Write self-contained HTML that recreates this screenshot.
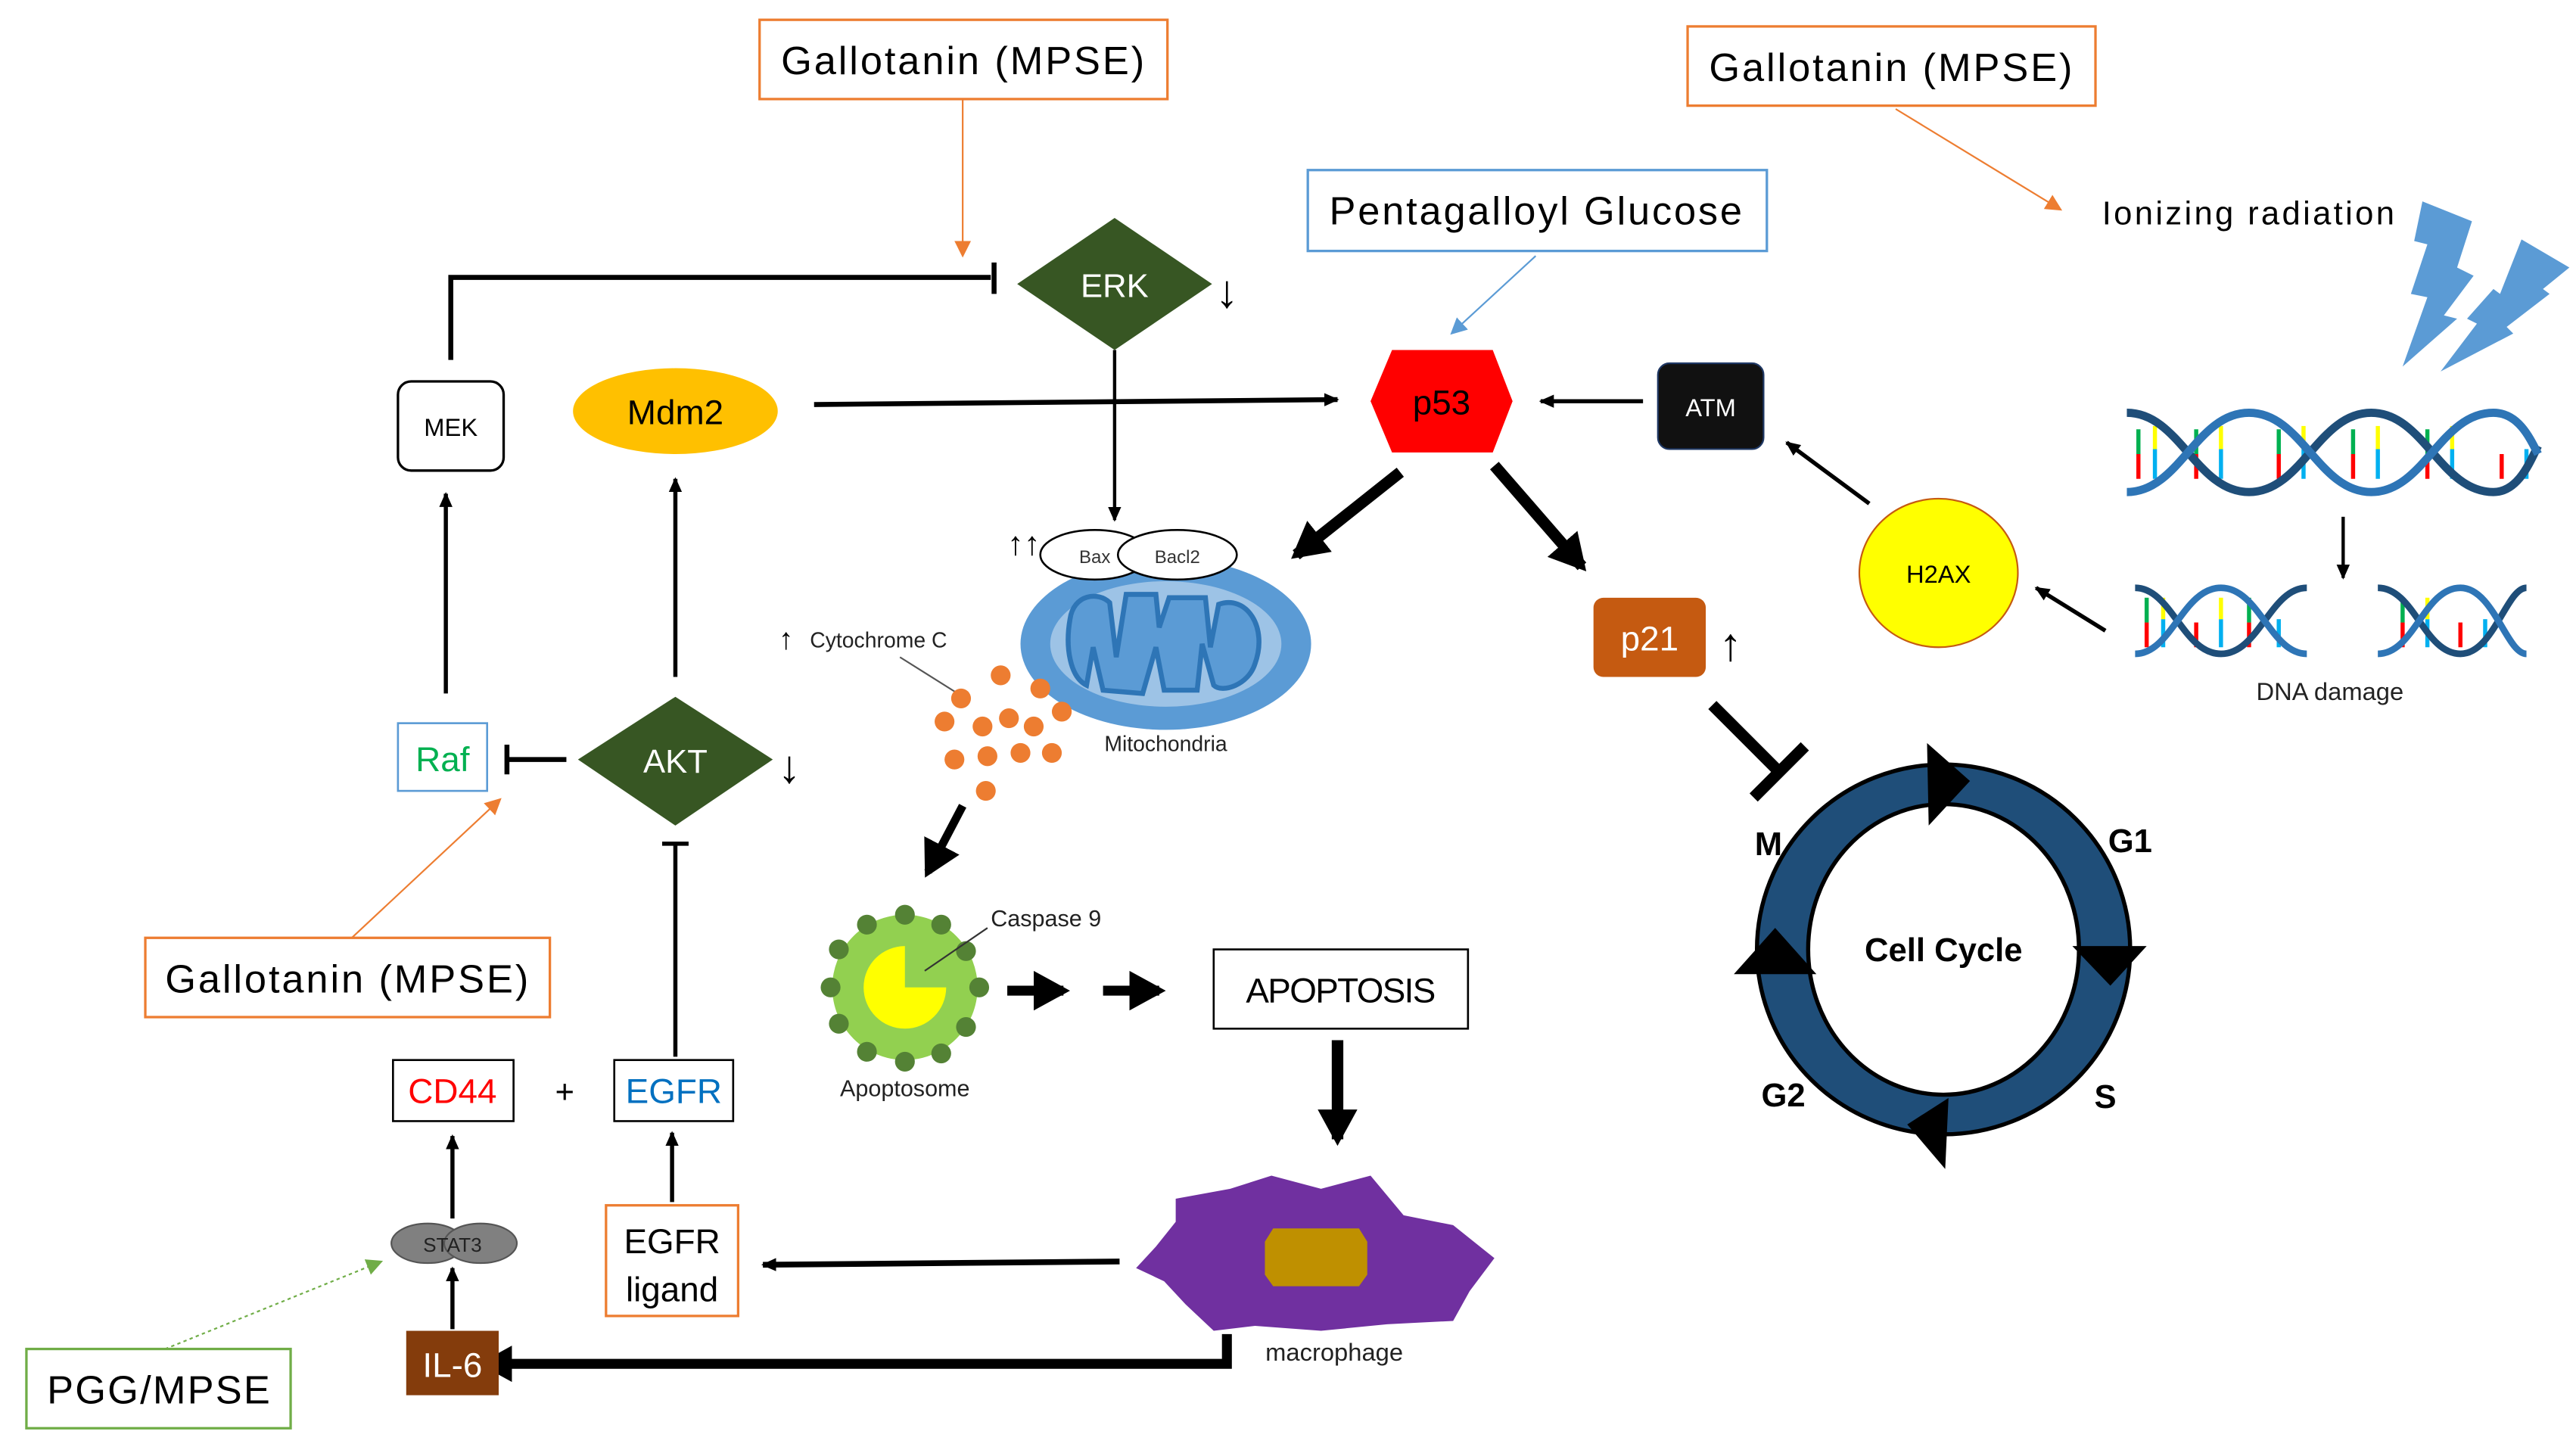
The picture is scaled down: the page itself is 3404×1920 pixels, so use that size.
<!DOCTYPE html>
<html><head><meta charset="utf-8"><style>
html,body{margin:0;padding:0;background:#fff;}
svg{display:block;}
text{font-family:"Liberation Sans",sans-serif;}
</style></head><body>
<svg width="3404" height="1920" viewBox="0 0 1560 880" preserveAspectRatio="none" xmlns="http://www.w3.org/2000/svg">
<defs>
<marker id="a" markerWidth="10" markerHeight="10" refX="8" refY="5" orient="auto" markerUnits="userSpaceOnUse"><path d="M0,1 L9,5 L0,9 Z" fill="#000"/></marker>
<marker id="ao" markerWidth="12" markerHeight="12" refX="9" refY="6" orient="auto" markerUnits="userSpaceOnUse"><path d="M0,1 L10,6 L0,11 Z" fill="#ed7d31"/></marker>
<marker id="ab" markerWidth="12" markerHeight="12" refX="9" refY="6" orient="auto" markerUnits="userSpaceOnUse"><path d="M0,1 L10,6 L0,11 Z" fill="#5b9bd5"/></marker>
<marker id="ag" markerWidth="12" markerHeight="12" refX="9" refY="6" orient="auto" markerUnits="userSpaceOnUse"><path d="M0,1 L10,6 L0,11 Z" fill="#70ad47"/></marker>
<marker id="A" markerWidth="30" markerHeight="30" refX="18" refY="12" orient="auto" markerUnits="userSpaceOnUse"><path d="M0,0 L22,12 L0,24 Z" fill="#000"/></marker>
</defs>

<!-- top boxes -->
<rect x="460" y="12" width="247" height="48" fill="#fff" stroke="#ed7d31" stroke-width="1.5"/>
<text x="583" y="45" font-size="24" text-anchor="middle" textLength="220">Gallotanin (MPSE)</text>
<rect x="1022" y="16" width="247" height="48" fill="#fff" stroke="#ed7d31" stroke-width="1.5"/>
<text x="1145" y="49" font-size="24" text-anchor="middle" textLength="220">Gallotanin (MPSE)</text>
<rect x="792" y="103" width="278" height="49" fill="#fff" stroke="#5b9bd5" stroke-width="1.5"/>
<text x="930" y="136" font-size="24" text-anchor="middle" textLength="250">Pentagalloyl Glucose</text>
<line x1="583" y1="60" x2="583" y2="155" stroke="#ed7d31" stroke-width="1" marker-end="url(#ao)"/>
<line x1="930" y1="155" x2="879" y2="202" stroke="#5b9bd5" stroke-width="1" marker-end="url(#ab)"/>
<line x1="1148" y1="66" x2="1248" y2="127" stroke="#ed7d31" stroke-width="1" marker-end="url(#ao)"/>
<text x="1273" y="136" font-size="20" textLength="177">Ionizing radiation</text>
<!-- lightning -->
<polygon points="1467,122 1497,134 1488,162 1498,167 1480,191 1488,193 1455,222 1470,180 1460,178 1470,148 1462,146" fill="#5b9bd5"/>
<polygon points="1527,145 1556,162 1540,175 1544,178 1518,198 1522,202 1478,225 1500,196 1494,193 1510,175 1514,178" fill="#5b9bd5"/>

<!-- ERK -->
<polygon points="675,132 734,172 675,212 616,172" fill="#375623"/>
<text x="675" y="180" font-size="20" fill="#fff" text-anchor="middle">ERK</text>
<text x="743" y="186" font-size="28" text-anchor="middle">↓</text>
<!-- MEK -->
<rect x="241" y="231" width="64" height="54" rx="8" fill="#fff" stroke="#000" stroke-width="1.5"/>
<text x="273" y="264" font-size="15" text-anchor="middle">MEK</text>
<polyline points="273,218 273,168 600,168" fill="none" stroke="#000" stroke-width="3"/>
<line x1="602" y1="159" x2="602" y2="178" stroke="#000" stroke-width="3"/>
<!-- Mdm2 -->
<ellipse cx="409" cy="249" rx="62" ry="26" fill="#ffc000"/>
<text x="409" y="257" font-size="21" text-anchor="middle">Mdm2</text>
<line x1="493" y1="245" x2="810" y2="242" stroke="#000" stroke-width="3" marker-end="url(#a)"/>
<line x1="675" y1="212" x2="675" y2="315" stroke="#000" stroke-width="2" marker-end="url(#a)"/>
<!-- p53 -->
<polygon points="843,212 904,212 916,243 904,274 843,274 830,243" fill="#ff0000"/>
<text x="873" y="251" font-size="21" text-anchor="middle">p53</text>
<!-- ATM -->
<rect x="1004" y="220" width="64" height="52" rx="7" fill="#111" stroke="#1f3864" stroke-width="1"/>
<text x="1036" y="252" font-size="15" fill="#fff" text-anchor="middle">ATM</text>
<line x1="995" y1="243" x2="933" y2="243" stroke="#000" stroke-width="2.5" marker-end="url(#a)"/>
<!-- H2AX -->
<ellipse cx="1174" cy="347" rx="48" ry="45" fill="#ffff00" stroke="#c55a11" stroke-width="1"/>
<text x="1174" y="353" font-size="15" text-anchor="middle">H2AX</text>
<line x1="1132" y1="305" x2="1082" y2="268" stroke="#000" stroke-width="2.5" marker-end="url(#a)"/>
<line x1="1275" y1="382" x2="1233" y2="356" stroke="#000" stroke-width="2.5" marker-end="url(#a)"/>
<line x1="1419" y1="313" x2="1419" y2="350" stroke="#000" stroke-width="2" marker-end="url(#a)"/>
<!-- DNA -->
<g stroke-width="2.5">
<g stroke="#ff0000"><line x1="1295" y1="275" x2="1295" y2="290"/><line x1="1330" y1="275" x2="1330" y2="290"/><line x1="1380" y1="275" x2="1380" y2="290"/><line x1="1425" y1="275" x2="1425" y2="290"/><line x1="1470" y1="275" x2="1470" y2="290"/><line x1="1515" y1="275" x2="1515" y2="290"/></g>
<g stroke="#00b0f0"><line x1="1305" y1="272" x2="1305" y2="290"/><line x1="1345" y1="272" x2="1345" y2="290"/><line x1="1395" y1="272" x2="1395" y2="290"/><line x1="1440" y1="272" x2="1440" y2="290"/><line x1="1485" y1="272" x2="1485" y2="290"/><line x1="1530" y1="272" x2="1530" y2="290"/></g>
<g stroke="#ffff00"><line x1="1305" y1="258" x2="1305" y2="272"/><line x1="1345" y1="258" x2="1345" y2="272"/><line x1="1395" y1="258" x2="1395" y2="272"/><line x1="1440" y1="258" x2="1440" y2="272"/><line x1="1485" y1="258" x2="1485" y2="272"/></g>
<g stroke="#00b050"><line x1="1295" y1="260" x2="1295" y2="275"/><line x1="1330" y1="260" x2="1330" y2="275"/><line x1="1380" y1="260" x2="1380" y2="275"/><line x1="1425" y1="260" x2="1425" y2="275"/><line x1="1470" y1="260" x2="1470" y2="275"/></g>
</g>
<path d="M1288,250 C1320,250 1330,298 1362,298 C1394,298 1404,250 1436,250 C1468,250 1478,298 1510,298 C1525,298 1532,280 1537,270" fill="none" stroke="#1f4e79" stroke-width="5"/>
<path d="M1288,298 C1320,298 1330,250 1362,250 C1394,250 1404,298 1436,298 C1468,298 1478,250 1510,250 C1525,250 1532,265 1537,275" fill="none" stroke="#2e75b6" stroke-width="5"/>
<g stroke-width="2.5">
<g stroke="#ff0000"><line x1="1300" y1="377" x2="1300" y2="392"/><line x1="1330" y1="377" x2="1330" y2="392"/><line x1="1362" y1="377" x2="1362" y2="392"/><line x1="1455" y1="377" x2="1455" y2="392"/><line x1="1490" y1="377" x2="1490" y2="392"/></g>
<g stroke="#00b0f0"><line x1="1310" y1="375" x2="1310" y2="392"/><line x1="1345" y1="375" x2="1345" y2="392"/><line x1="1380" y1="375" x2="1380" y2="392"/><line x1="1470" y1="375" x2="1470" y2="392"/><line x1="1505" y1="375" x2="1505" y2="392"/></g>
<g stroke="#ffff00"><line x1="1310" y1="362" x2="1310" y2="375"/><line x1="1345" y1="362" x2="1345" y2="375"/><line x1="1470" y1="362" x2="1470" y2="375"/></g>
<g stroke="#00b050"><line x1="1300" y1="362" x2="1300" y2="377"/><line x1="1362" y1="362" x2="1362" y2="377"/><line x1="1455" y1="362" x2="1455" y2="377"/></g>
</g>
<path d="M1293,356 C1315,356 1322,396 1345,396 C1368,396 1375,356 1397,356" fill="none" stroke="#1f4e79" stroke-width="4"/>
<path d="M1293,396 C1315,396 1322,356 1345,356 C1368,356 1375,396 1397,396" fill="none" stroke="#2e75b6" stroke-width="4"/>
<path d="M1440,356 C1462,356 1468,396 1490,396 C1510,396 1518,356 1530,356" fill="none" stroke="#1f4e79" stroke-width="4"/>
<path d="M1440,396 C1462,396 1468,356 1490,356 C1510,356 1518,396 1530,396" fill="none" stroke="#2e75b6" stroke-width="4"/>
<text x="1411" y="424" font-size="15" text-anchor="middle" fill="#222">DNA damage</text>

<!-- p53 big arrows -->
<line x1="848" y1="286" x2="785" y2="336" stroke="#000" stroke-width="7" marker-end="url(#A)"/>
<line x1="905" y1="282" x2="958" y2="343" stroke="#000" stroke-width="7" marker-end="url(#A)"/>
<!-- p21 -->
<rect x="965" y="362" width="68" height="48" rx="6" fill="#c55a11"/>
<text x="999" y="394" font-size="21" fill="#fff" text-anchor="middle">p21</text>
<text x="1048" y="400" font-size="28" text-anchor="middle">↑</text>
<line x1="1037" y1="427" x2="1078" y2="468" stroke="#000" stroke-width="7"/>
<line x1="1062" y1="483" x2="1093" y2="452" stroke="#000" stroke-width="7"/>

<!-- cell cycle -->
<ellipse cx="1177" cy="575" rx="113" ry="112" fill="#1f4e79" stroke="#000" stroke-width="2.5"/>
<ellipse cx="1177" cy="575" rx="82" ry="88" fill="#fff" stroke="#000" stroke-width="2.5"/>
<polygon points="1167,450 1193,473 1168,500" fill="#000"/>
<polygon points="1255,573 1300,573 1278,597" fill="#000"/>
<polygon points="1180,665 1178,708 1155,681" fill="#000"/>
<polygon points="1050,590 1100,590 1075,562" fill="#000"/>
<text x="1071" y="518" font-size="20" font-weight="bold" text-anchor="middle">M</text>
<text x="1290" y="516" font-size="20" font-weight="bold" text-anchor="middle">G1</text>
<text x="1080" y="670" font-size="20" font-weight="bold" text-anchor="middle">G2</text>
<text x="1275" y="671" font-size="20" font-weight="bold" text-anchor="middle">S</text>
<text x="1177" y="582" font-size="20" font-weight="bold" text-anchor="middle">Cell Cycle</text>

<!-- mitochondria -->
<ellipse cx="706" cy="390" rx="88" ry="52" fill="#5b9bd5"/>
<ellipse cx="706" cy="390" rx="70" ry="38" fill="#9dc3e6"/>
<path d="M648,375 C650,360 665,358 672,365 L676,398 L682,360 L700,360 L702,380 L708,362 L730,362 L733,392 L738,366 C755,360 768,380 760,402 C756,415 740,420 735,415 L728,390 L725,418 L705,418 L700,392 L692,420 L668,418 L662,392 L658,415 C648,410 645,392 648,375 Z" fill="#5b9bd5" stroke="#2e75b6" stroke-width="3"/>
<ellipse cx="663" cy="336" rx="33" ry="15" fill="#fff" stroke="#000" stroke-width="1.2"/>
<ellipse cx="713" cy="336" rx="36" ry="15" fill="#fff" stroke="#000" stroke-width="1.2"/>
<text x="663" y="341" font-size="11" text-anchor="middle" fill="#333">Bax</text>
<text x="713" y="341" font-size="11" text-anchor="middle" fill="#333">Bacl2</text>
<text x="620" y="336" font-size="20" text-anchor="middle">↑↑</text>
<text x="706" y="455" font-size="13" text-anchor="middle" fill="#222">Mitochondria</text>
<text x="476" y="393" font-size="18" text-anchor="middle">↑</text>
<text x="532" y="392" font-size="13" text-anchor="middle" fill="#222">Cytochrome C</text>
<line x1="545" y1="398" x2="580" y2="420" stroke="#555" stroke-width="1"/>
<g fill="#ed7d31">
<circle cx="606" cy="409" r="6"/><circle cx="630" cy="417" r="6"/><circle cx="582" cy="423" r="6"/><circle cx="643" cy="431" r="6"/>
<circle cx="572" cy="437" r="6"/><circle cx="595" cy="440" r="6"/><circle cx="611" cy="435" r="6"/><circle cx="626" cy="440" r="6"/>
<circle cx="578" cy="460" r="6"/><circle cx="598" cy="458" r="6"/><circle cx="618" cy="456" r="6"/><circle cx="637" cy="456" r="6"/>
<circle cx="597" cy="479" r="6"/>
</g>
<line x1="583" y1="488" x2="562" y2="528" stroke="#000" stroke-width="5" marker-end="url(#A)"/>
<!-- apoptosome -->
<circle cx="548" cy="598" r="44" fill="#92d050"/>
<g fill="#548235">
<circle cx="548" cy="554" r="6"/><circle cx="570" cy="560" r="6"/><circle cx="585" cy="576" r="6"/><circle cx="593" cy="598" r="6"/><circle cx="585" cy="622" r="6"/><circle cx="570" cy="638" r="6"/><circle cx="548" cy="643" r="6"/><circle cx="525" cy="637" r="6"/><circle cx="508" cy="620" r="6"/><circle cx="503" cy="598" r="6"/><circle cx="508" cy="575" r="6"/><circle cx="525" cy="560" r="6"/>
</g>
<path d="M548,598 L573,598 A25,25 0 1 1 548,573 Z" fill="#ffff00"/>
<line x1="560" y1="588" x2="598" y2="562" stroke="#333" stroke-width="1"/>
<text x="600" y="561" font-size="14" fill="#222">Caspase 9</text>
<text x="548" y="664" font-size="14" text-anchor="middle" fill="#222">Apoptosome</text>
<line x1="610" y1="600" x2="644" y2="600" stroke="#000" stroke-width="6" marker-end="url(#A)"/>
<line x1="668" y1="600" x2="702" y2="600" stroke="#000" stroke-width="6" marker-end="url(#A)"/>
<rect x="735" y="575" width="154" height="48" fill="#fff" stroke="#000" stroke-width="1.2"/>
<text x="812" y="607" font-size="21" text-anchor="middle" textLength="115">APOPTOSIS</text>
<line x1="810" y1="630" x2="810" y2="690" stroke="#000" stroke-width="7" marker-end="url(#A)"/>
<!-- macrophage -->
<path d="M712,726 L745,720 L770,712 L800,720 L830,712 L850,736 L880,742 L905,762 L890,782 L880,800 L840,802 L800,806 L760,803 L735,806 L718,790 L705,776 L688,768 L700,755 L712,740 Z" fill="#7030a0"/>
<polygon points="771,744 823,744 828,752 828,772 823,779 771,779 766,772 766,752" fill="#bf9000"/>
<text x="808" y="824" font-size="15" text-anchor="middle" fill="#222">macrophage</text>
<line x1="678" y1="764" x2="462" y2="766" stroke="#000" stroke-width="3.5" marker-end="url(#a)"/>
<polyline points="743,808 743,826 305,826" fill="none" stroke="#000" stroke-width="6"/>
<polygon points="290,826 310,815 310,837" fill="#000"/>
<!-- IL-6 -->
<rect x="246" y="806" width="56" height="39" fill="#843c0c"/>
<text x="274" y="834" font-size="21" fill="#fff" text-anchor="middle">IL-6</text>
<!-- STAT3 -->
<ellipse cx="259" cy="753" rx="22" ry="12" fill="#808080" stroke="#555" stroke-width="1"/>
<ellipse cx="291" cy="753" rx="22" ry="12" fill="#808080" stroke="#555" stroke-width="1"/>
<text x="274" y="758" font-size="12" text-anchor="middle" fill="#222">STAT3</text>
<line x1="274" y1="805" x2="274" y2="768" stroke="#000" stroke-width="2.5" marker-end="url(#a)"/>
<line x1="274" y1="738" x2="274" y2="688" stroke="#000" stroke-width="2.5" marker-end="url(#a)"/>
<!-- CD44 / EGFR -->
<rect x="238" y="642" width="73" height="37" fill="#fff" stroke="#000" stroke-width="1.2"/>
<text x="274" y="668" font-size="21" fill="#ff0000" text-anchor="middle">CD44</text>
<text x="342" y="668" font-size="20" text-anchor="middle">+</text>
<rect x="372" y="642" width="72" height="37" fill="#fff" stroke="#000" stroke-width="1.2"/>
<text x="408" y="668" font-size="21" fill="#0070c0" text-anchor="middle">EGFR</text>
<rect x="367" y="730" width="80" height="67" fill="#fff" stroke="#ed7d31" stroke-width="1.5"/>
<text x="407" y="759" font-size="21" text-anchor="middle">EGFR</text>
<text x="407" y="788" font-size="21" text-anchor="middle">ligand</text>
<line x1="407" y1="728" x2="407" y2="686" stroke="#000" stroke-width="2.5" marker-end="url(#a)"/>
<line x1="409" y1="640" x2="409" y2="511" stroke="#000" stroke-width="2.5"/>
<line x1="401" y1="511" x2="417" y2="511" stroke="#000" stroke-width="2.5"/>
<!-- AKT -->
<polygon points="409,422 468,460 409,500 350,460" fill="#375623"/>
<text x="409" y="468" font-size="20" fill="#fff" text-anchor="middle">AKT</text>
<text x="478" y="474" font-size="28" text-anchor="middle">↓</text>
<line x1="409" y1="410" x2="409" y2="290" stroke="#000" stroke-width="2.5" marker-end="url(#a)"/>
<!-- Raf -->
<rect x="241" y="438" width="54" height="41" fill="#fff" stroke="#5b9bd5" stroke-width="1.2"/>
<text x="268" y="467" font-size="21" fill="#00b050" text-anchor="middle">Raf</text>
<line x1="343" y1="460" x2="307" y2="460" stroke="#000" stroke-width="3"/>
<line x1="307" y1="451" x2="307" y2="469" stroke="#000" stroke-width="3"/>
<line x1="270" y1="420" x2="270" y2="299" stroke="#000" stroke-width="2.5" marker-end="url(#a)"/>
<!-- bottom left boxes -->
<rect x="88" y="568" width="245" height="48" fill="#fff" stroke="#ed7d31" stroke-width="1.5"/>
<text x="210" y="601" font-size="24" text-anchor="middle" textLength="220">Gallotanin (MPSE)</text>
<line x1="213" y1="568" x2="303" y2="484" stroke="#ed7d31" stroke-width="1" marker-end="url(#ao)"/>
<rect x="16" y="817" width="160" height="48" fill="#fff" stroke="#70ad47" stroke-width="1.5"/>
<text x="96" y="850" font-size="24" text-anchor="middle" textLength="135">PGG/MPSE</text>
<line x1="100" y1="817" x2="231" y2="764" stroke="#70ad47" stroke-width="1" stroke-dasharray="2,2" marker-end="url(#ag)"/>
</svg>
</body></html>
